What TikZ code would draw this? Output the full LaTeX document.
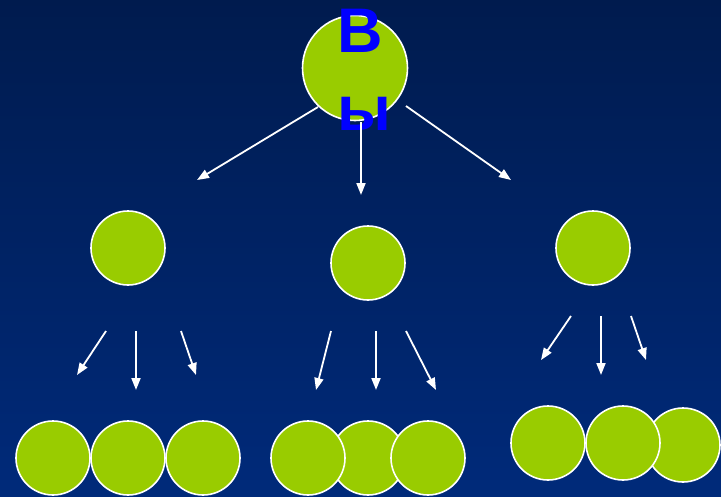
\documentclass[tikz,border=0pt]{standalone}
\usepackage{fontspec}
\newfontfamily\vyfont{Liberation Sans}
\usetikzlibrary{arrows.meta,positioning}
\definecolor{leafgreen}{RGB}{153,204,0}
\definecolor{vyblue}{RGB}{0,0,255}
\definecolor{bgtop}{RGB}{0,27,78}
\definecolor{bgbot}{RGB}{0,42,122}
\tikzset{
  circTop/.style={ draw=white, circle, fill=leafgreen, line width=1.6pt, minimum size=105pt, inner sep=0pt }
}
\tikzset{
  circMan/.style={ draw=white, circle, fill=leafgreen, line width=1.6pt, minimum size=74pt, inner sep=0pt }
}
\tikzset{
  arr/.style={ white, line width=1.8pt, -{Triangle[length=12pt,width=9pt]} }
}
\begin{document}
\begin{tikzpicture}[x=1pt, y=-1pt]
      \fill[top color=bgtop, bottom color=bgbot] (0, 0) rectangle (721, 496);
      \useasboundingbox (0, 0) rectangle (721, 496);

      % top
      \node[circTop] (you) at (355, 68) {};
      \node[anchor=north west, align=left, inner sep=0pt, text=vyblue,
            font=\vyfont\bfseries\fontsize{63}{78}\selectfont] (vy) at (337, 9) {В\\ы};

      % second row
      \node[circMan] (m1) at (128, 248) {};
      \node[circMan] (m2) at (368, 263) {};
      \node[circMan] (m3) at (593, 248) {};

      % third row, left group
      \node[circMan] (a1) at (53, 458) {};
      \node[circMan] (a2) at (128, 458) {};
      \node[circMan] (a3) at (203, 458) {};

      % third row, middle group
      \node[circMan] (b2) at (368, 458) {};
      \node[circMan] (b1) at (308, 458) {};
      \node[circMan] (b3) at (428, 458) {};

      % third row, right group
      \node[circMan] (c3) at (683, 445) {};
      \node[circMan] (c2) at (623, 443) {};
      \node[circMan] (c1) at (548, 443) {};

      % arrow ends
      \coordinate (t1s) at (318, 107); \coordinate (t1e) at (197, 180);
      \coordinate (t2s) at (361, 122); \coordinate (t2e) at (361, 195);
      \coordinate (t3s) at (406, 106); \coordinate (t3e) at (511, 180);

      \coordinate (a1s) at (106, 331); \coordinate (a1e) at (77, 375);
      \coordinate (a2s) at (136, 331); \coordinate (a2e) at (136, 390);
      \coordinate (a3s) at (181, 331); \coordinate (a3e) at (196, 375);

      \coordinate (b1s) at (331, 331); \coordinate (b1e) at (316, 390);
      \coordinate (b2s) at (376, 331); \coordinate (b2e) at (376, 390);
      \coordinate (b3s) at (406, 331); \coordinate (b3e) at (436, 390);

      \coordinate (c1s) at (571, 316); \coordinate (c1e) at (541, 360);
      \coordinate (c2s) at (601, 316); \coordinate (c2e) at (601, 375);
      \coordinate (c3s) at (631, 316); \coordinate (c3e) at (646, 360);

      \begin{scope}[arr]
        \draw (t1s) -- (t1e);
        \draw (t2s) -- (t2e);
        \draw (t3s) -- (t3e);

        \draw (a1s) -- (a1e);
        \draw (a2s) -- (a2e);
        \draw (a3s) -- (a3e);

        \draw (b1s) -- (b1e);
        \draw (b2s) -- (b2e);
        \draw (b3s) -- (b3e);

        \draw (c1s) -- (c1e);
        \draw (c2s) -- (c2e);
        \draw (c3s) -- (c3e);
      \end{scope}
    \end{tikzpicture}
\end{document}
